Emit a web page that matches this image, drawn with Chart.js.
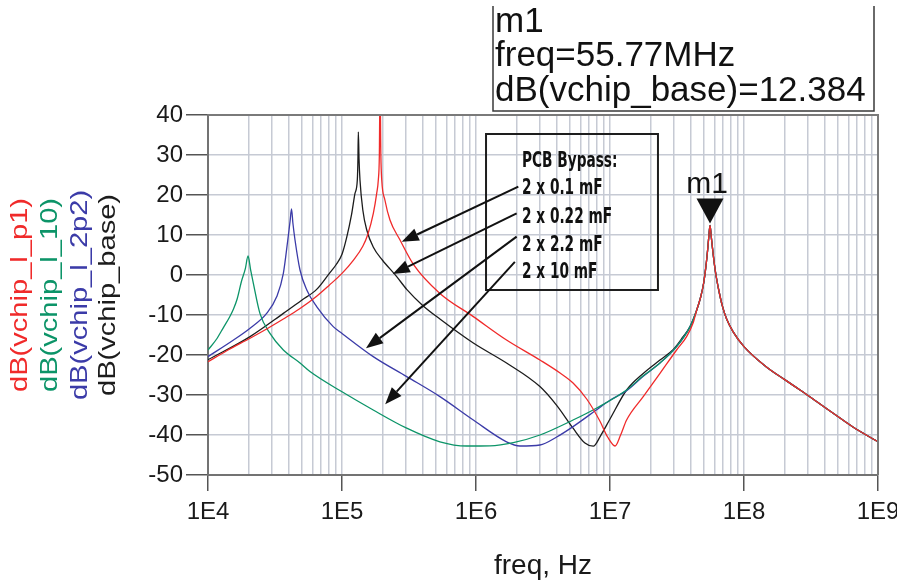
<!DOCTYPE html>
<html lang="en">
<head>
<meta charset="utf-8">
<title>dB(vchip) vs freq</title>
<script src="https://cdn.jsdelivr.net/npm/chart.js@4.4.1/dist/chart.umd.min.js"></script>
<style>
  html, body { margin: 0; padding: 0; background: #ffffff; }
  canvas { display: block; }
</style>
</head>
<body>
<canvas id="myChart" width="897" height="583"></canvas>
<script>
// Curva vchip_l_p1 (2 x 0.1 mF) hasta unirse al tramo común
const freqP1 = [1e4, 1.4e4, 2.06e4, 2.8e4, 3.65e4, 4.8e4, 6.47e4, 8e4, 1e5, 1.21e5, 1.43e5, 1.56e5, 1.713e5, 1.815e5, 1.866e5, 1.9e5, 1.923e5,
    1.95e5, 1.98e5, 2.09e5, 2.28e5, 2.71e5, 3.42e5, 5.38e5, 9.55e5, 1.69e6, 3e6, 4.24e6, 5.3e6, 6.7e6, 8.4e6, 9.6e6, 1.09e7, 1.2e7,
    1.33e7, 1.77e7, 2.36e7, 3.14e7, 3.73e7, 4.19e7];
const dbP1 = [-21.7, -18.8, -15.8, -13.3, -11, -8.5, -5.3, -2.6, 0.4, 3.6, 7.2, 10.2, 15.4, 20.4, 23.75, 30, 48,
    30, 23.75, 18.75, 13.75, 8.75, 2.6, -4.6, -10.4, -16.25, -21.25, -24.5, -27, -31, -36.5, -40.5, -42.75, -40,
    -36.25, -30.4, -24.6, -18.75, -15.4, -11.8];

// Curva vchip_l_10 (2 x 10 mF)
const freq10 = [1e4, 1.16e4, 1.3e4, 1.45e4, 1.55e4, 1.65e4, 1.78e4, 1.9e4, 1.99e4, 2.08e4, 2.18e4, 2.44e4, 2.9e4, 3.65e4, 4.86e4, 5.8e4,
    1e5, 1.71e5, 3.04e5, 5.38e5, 8.5e5, 1.27e6, 1.9e6, 3e6, 5.3e6, 7.9e6, 1.33e7, 1.77e7, 2.36e7, 3.14e7, 3.96e7];
const db10 = [-18.75, -16, -13.2, -10.5, -8.5, -6, -1.5, 1.6, 4.75, 1.3, -2.1, -9.6, -14.6, -18.75, -22, -24.2,
    -29.2, -33.75, -38.3, -41.7, -42.75, -42.7, -41.9, -40, -36.25, -33.3, -28.75, -25.2, -22, -17.9, -12.9];

// Curva vchip_l_2p2 (2 x 2.2 mF)
const freq2p2 = [1e4, 1.55e4, 2.06e4, 2.74e4, 3.26e4, 3.65e4, 3.94e4, 4.1e4, 4.2e4, 4.3e4, 4.46e4, 4.86e4, 5.46e4, 6.47e4, 8.6e4, 1e5,
    1.71e5, 3.04e5, 5.38e5, 9.55e5, 1.69e6, 2.13e6, 3e6, 4e6, 5.3e6, 7.9e6, 1e7, 1.33e7, 1.77e7, 2.36e7, 3.14e7, 3.96e7];
const db2p2 = [-20.4, -16.25, -13.3, -9.6, -5.4, 0.4, 8.75, 13.5, 16.5, 13, 8.75, 1.25, -3.75, -7.9, -12.9, -14.6,
    -20.4, -25.4, -30.4, -36.25, -41.7, -42.75, -42.5, -40.5, -37.9, -33.75, -31.3, -28.9, -25.3, -22, -17.9, -12.9];

// Curva vchip_base (2 x 0.22 mF)
const freqBase = [1e4, 2.06e4, 3.65e4, 5e4, 6.47e4, 8e4, 9e4, 1e5, 1.084e5, 1.18e5, 1.25e5, 1.301e5, 1.315e5, 1.324e5, 1.34e5, 1.362e5,
    1.43e5, 1.53e5, 1.71e5, 2e5, 2.56e5, 3.04e5, 4e5, 5.38e5, 9.55e5, 1.69e6, 3e6, 4e6, 5.3e6, 6.5e6, 7.5e6, 8.5e6, 1e7, 1.33e7,
    1.77e7, 2.36e7, 2.97e7, 3.5e7, 3.96e7];
const dbBase = [-21.2, -15.4, -9.6, -6.3, -3.6, 0.3, 2.5, 5.2, 9.4, 15.2, 20.4, 23.75, 29, 35.8, 29, 23.75,
    16.25, 11.25, 7, 3.75, -0.4, -3.6, -7.6, -11, -17, -22, -27.9, -32.6, -38.3, -42, -42.8, -40.2, -36, -28.75,
    -24.6, -21.25, -18.6, -15.5, -12.9];

// Tramo común: resonancia de 55.77 MHz y caída hasta 1 GHz
const freqCommon = [4.44e7, 4.75e7, 5e7, 5.2e7, 5.35e7, 5.47e7, 5.577e7, 5.7e7, 5.85e7, 6.05e7, 6.25e7, 6.5e7, 6.9e7, 7.42e7, 8.3e7,
    1e8, 1.47e8, 2e8, 2.62e8, 3.5e8, 4.6e8, 6.5e8, 1e9];
const dbCommon = [-8.75, -5.5, -2, 2.2, 6.2, 9.8, 12.384, 9.5, 6, 2, -1, -4, -7.8, -11, -14.2,
    -17.9, -23, -26.1, -28.75, -31.7, -34.5, -38, -41.7];

const seriesNames = ["dB(vchip_l_p1)", "dB(vchip_l_10)", "dB(vchip_l_2p2)", "dB(vchip_base)"];
const seriesColors = ["#f02a2a", "#0c9468", "#3b3ba8", "#1c1c1c"];

// Ejes
const xDecades = [4, 5, 6, 7, 8, 9];
const yMin = -50, yMax = 40, yStep = 10;

// Marcador m1
const markerName = "m1";
const markerFreq = 55.77e6;
const markerDb = 12.384;

// Nota "PCB Bypass" con sus flechas (frecuencia, dB)
const noteLines = ["PCB Bypass:", "2 x 0.1 mF", "2 x 0.22 mF", "2 x 2.2 mF", "2 x 10 mF"];
const noteBox = { f0: 1.188e6, f1: 2.28e7, dbTop: 35.25, dbBottom: -3.75 };
const arrowFrom = [[2.07e6, 22.1], [2.01e6, 15.4], [2.01e6, 9.6], [1.95e6, 3.3]];
const arrowTo = [[2.79e5, 8.3], [2.39e5, 0.25], [1.51e5, -18.3], [2.1e5, -32.3]];

const fontFamily = '"Liberation Sans", Arial, Helvetica, sans-serif';
const narrowFamily = '"Liberation Sans Narrow", "Arial Narrow", "DejaVu Sans Condensed", sans-serif';

// Ticks del eje logarítmico: 1..9 por década
const xTickValues = [];
xDecades.forEach(function (e) {
    if (e === xDecades[xDecades.length - 1]) {
        xTickValues.push(Math.pow(10, e));
        return;
    }
    for (let m = 1; m <= 9; m++) xTickValues.push(m * Math.pow(10, e));
});

function isDecade(v) {
    const lg = Math.log10(v);
    return Math.abs(lg - Math.round(lg)) < 1e-9;
}

function toPoints(freqs, dbs) {
    return freqs.map((f, i) => ({ x: f, y: dbs[i] }));
}

function drawArrow(ctx, x0, y0, x1, y1) {
    const ang = Math.atan2(y1 - y0, x1 - x0);
    const len = 17, half = 6.5;
    const bx = x1 - len * Math.cos(ang);
    const by = y1 - len * Math.sin(ang);
    ctx.beginPath();
    ctx.moveTo(x0, y0);
    ctx.lineTo(bx, by);
    ctx.stroke();
    ctx.beginPath();
    ctx.moveTo(x1, y1);
    ctx.lineTo(bx + half * Math.sin(ang), by - half * Math.cos(ang));
    ctx.lineTo(bx - half * Math.sin(ang), by + half * Math.cos(ang));
    ctx.closePath();
    ctx.fill();
}

// Texto escalado horizontalmente a un ancho dado
function fitText(ctx, text, x, y, width) {
    const w = ctx.measureText(text).width;
    ctx.save();
    ctx.translate(x, y);
    ctx.scale(width / w, 1);
    ctx.fillText(text, 0, 0);
    ctx.restore();
}

// Marco, títulos del eje Y, marcador y nota
const extrasPlugin = {
    id: "extras",
    afterDraw(chart) {
        const ctx = chart.ctx;
        const area = chart.chartArea;
        const xs = chart.scales.x, ys = chart.scales.y;

        ctx.save();
        // borde superior y derecho del área
        ctx.strokeStyle = "#7a7a7a";
        ctx.lineWidth = 2;
        ctx.beginPath();
        ctx.moveTo(area.left, area.top);
        ctx.lineTo(area.right, area.top);
        ctx.lineTo(area.right, area.bottom);
        ctx.stroke();

        // títulos del eje Y en colores, girados
        ctx.font = "24px " + fontFamily;
        const k = 194 / ctx.measureText(seriesNames[0]).width;
        const titleX = [27, 57, 87, 115];
        seriesNames.forEach(function (name, i) {
            ctx.save();
            ctx.translate(titleX[i], (area.top + area.bottom) / 2);
            ctx.rotate(-Math.PI / 2);
            ctx.scale(k, 1);
            ctx.textAlign = "center";
            ctx.textBaseline = "alphabetic";
            ctx.fillStyle = seriesColors[i];
            ctx.fillText(name, 0, 0);
            ctx.restore();
        });

        // caja de lectura del marcador
        ctx.strokeStyle = "#3a3a3a";
        ctx.lineWidth = 1.5;
        ctx.beginPath();
        ctx.moveTo(493, 6);
        ctx.lineTo(493, 111);
        ctx.lineTo(874, 111);
        ctx.lineTo(874, 6);
        ctx.stroke();
        ctx.fillStyle = "#111111";
        ctx.font = "35px " + fontFamily;
        ctx.textAlign = "left";
        ctx.textBaseline = "alphabetic";
        ctx.fillText(markerName, 495, 32);
        ctx.fillText("freq=" + (markerFreq / 1e6).toFixed(2) + "MHz", 495, 66);
        ctx.fillText("dB(vchip_base)=" + markerDb.toFixed(3), 495, 101);

        // triángulo del marcador sobre la resonancia
        const mx = xs.getPixelForValue(markerFreq);
        const my = ys.getPixelForValue(markerDb) - 2;
        ctx.fillStyle = "#111111";
        ctx.beginPath();
        ctx.moveTo(mx, my);
        ctx.lineTo(mx - 13.5, my - 25);
        ctx.lineTo(mx + 13.5, my - 25);
        ctx.closePath();
        ctx.fill();
        ctx.font = "30px " + fontFamily;
        ctx.textAlign = "center";
        ctx.fillText(markerName, mx - 3, my - 30);

        // nota con el valor de los condensadores
        const bx0 = xs.getPixelForValue(noteBox.f0);
        const bx1 = xs.getPixelForValue(noteBox.f1);
        const by0 = ys.getPixelForValue(noteBox.dbTop);
        const by1 = ys.getPixelForValue(noteBox.dbBottom);
        ctx.strokeStyle = "#1e1e1e";
        ctx.lineWidth = 2;
        ctx.strokeRect(bx0, by0, bx1 - bx0, by1 - by0);

        ctx.font = "bold 21px " + narrowFamily;
        ctx.textAlign = "left";
        const kn = 90 / ctx.measureText(noteLines[2]).width;
        const offsets = [33, 60, 89, 117, 144];
        noteLines.forEach(function (line, i) {
            const w = ctx.measureText(line).width * kn;
            fitText(ctx, line, bx0 + 36, by0 + offsets[i], w);
        });

        ctx.strokeStyle = "#111111";
        ctx.fillStyle = "#111111";
        ctx.lineWidth = 2;
        arrowFrom.forEach(function (p, i) {
            const q = arrowTo[i];
            drawArrow(ctx, xs.getPixelForValue(p[0]), ys.getPixelForValue(p[1]),
                xs.getPixelForValue(q[0]), ys.getPixelForValue(q[1]));
        });
        ctx.restore();
    }
};

Chart.defaults.font.family = fontFamily;

const gridColor = "#c6cad4";
const ctx = document.getElementById("myChart").getContext("2d");

const myChart = new Chart(ctx, {
    type: "line",
    data: {
        datasets: [
            { label: seriesNames[0], data: toPoints(freqP1.concat(freqCommon), dbP1.concat(dbCommon)), borderColor: seriesColors[0] },
            { label: seriesNames[1], data: toPoints(freq10.concat(freqCommon), db10.concat(dbCommon)), borderColor: seriesColors[1] },
            { label: seriesNames[2], data: toPoints(freq2p2.concat(freqCommon), db2p2.concat(dbCommon)), borderColor: seriesColors[2] },
            { label: seriesNames[3], data: toPoints(freqBase.concat(freqCommon), dbBase.concat(dbCommon)), borderColor: seriesColors[3] }
        ]
    },
    options: {
        responsive: false,
        animation: false,
        devicePixelRatio: 1,
        layout: { padding: { left: 0, right: 19, top: 115, bottom: 0 } },
        elements: {
            point: { radius: 0 },
            line: { borderWidth: 1.3, cubicInterpolationMode: "monotone", fill: false }
        },
        plugins: {
            legend: { display: false },
            tooltip: { enabled: false }
        },
        scales: {
            x: {
                type: "logarithmic",
                min: Math.pow(10, xDecades[0]),
                max: Math.pow(10, xDecades[xDecades.length - 1]),
                afterBuildTicks: function (scale) {
                    scale.ticks = xTickValues.map(v => ({ value: v }));
                },
                afterFit: function (scale) {
                    scale.height = 108;
                    scale.paddingLeft = 0;
                    scale.paddingRight = 0;
                },
                grid: {
                    color: gridColor,
                    lineWidth: 1.5,
                    tickLength: 16,
                    tickWidth: 1.5,
                    tickColor: c => (c.tick && isDecade(c.tick.value)) ? "#555555" : "rgba(0,0,0,0)"
                },
                border: { color: "#737373", width: 2 },
                ticks: {
                    autoSkip: false,
                    maxRotation: 0,
                    padding: 7,
                    color: "#1a1a1a",
                    font: { size: 24 },
                    callback: v => isDecade(v) ? "1E" + Math.round(Math.log10(v)) : ""
                },
                title: {
                    display: true,
                    text: "freq, Hz",
                    color: "#1a1a1a",
                    font: { size: 28 },
                    padding: { top: 0, bottom: 0 }
                }
            },
            y: {
                min: yMin,
                max: yMax,
                afterFit: function (scale) {
                    scale.width = 208;
                    scale.paddingTop = 0;
                    scale.paddingBottom = 0;
                },
                grid: { color: gridColor, lineWidth: 1.5, tickLength: 22, tickColor: "#555555", tickWidth: 1.5 },
                border: { color: "#737373", width: 2 },
                ticks: { stepSize: yStep, padding: 3, color: "#1a1a1a", font: { size: 24 } }
            }
        }
    },
    plugins: [extrasPlugin]
});
</script>
</body>
</html>
